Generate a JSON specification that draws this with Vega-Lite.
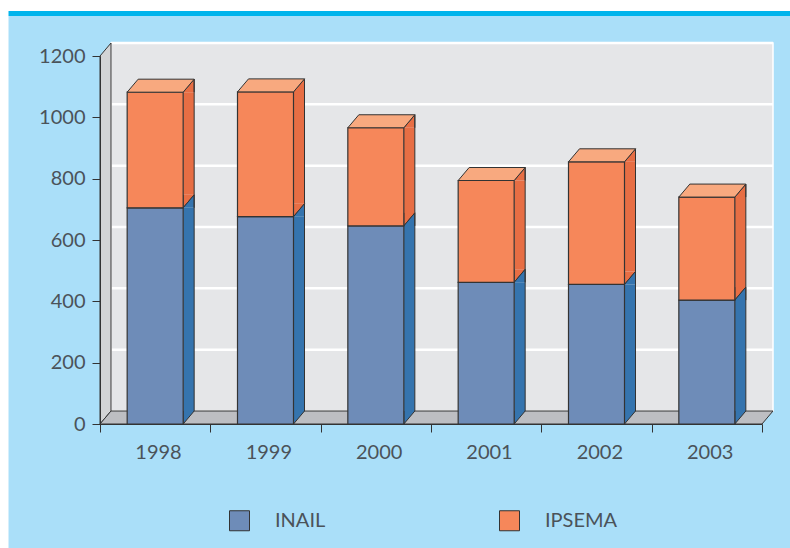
{
  "$schema": "https://vega.github.io/schema/vega-lite/v6.json",
  "width": 790,
  "height": 548,
  "autosize": "none",
  "padding": 0,
  "background": "#aadff9",
  "config": {"view": {"stroke": null}, "font": "Lato"},
  "datasets": {
    "bars": [
      {"year": 1998, "series": "INAIL", "value": 705},
      {"year": 1998, "series": "IPSEMA", "value": 377},
      {"year": 1999, "series": "INAIL", "value": 676},
      {"year": 1999, "series": "IPSEMA", "value": 407},
      {"year": 2000, "series": "INAIL", "value": 646},
      {"year": 2000, "series": "IPSEMA", "value": 320},
      {"year": 2001, "series": "INAIL", "value": 462},
      {"year": 2001, "series": "IPSEMA", "value": 332},
      {"year": 2002, "series": "INAIL", "value": 455},
      {"year": 2002, "series": "IPSEMA", "value": 400},
      {"year": 2003, "series": "INAIL", "value": 404},
      {"year": 2003, "series": "IPSEMA", "value": 336}
    ],
    "grid": [{"v": 200}, {"v": 400}, {"v": 600}, {"v": 800}, {"v": 1000}, {"v": 1200}]
  },
  "layer": [
    {
      "data": {"values": [{}]},
      "mark": {"type": "rect", "fill": {"gradient": "linear", "x1": 0, "y1": 0, "x2": 0, "y2": 1, "stops": [
        {"offset": 0, "color": "#ffffff"}, {"offset": 0.6875, "color": "#ffffff"},
        {"offset": 0.6875, "color": "#00b4ec"}, {"offset": 1, "color": "#00b4ec"}]}},
      "encoding": {"x": {"value": 0}, "x2": {"value": "width"}, "y": {"value": 0}, "y2": {"value": 16}}
    },
    {
      "data": {"values": [{}]},
      "mark": {"type": "rect", "fill": "#ffffff"},
      "encoding": {"x": {"value": 0}, "x2": {"value": 8.5}, "y": {"value": 0}, "y2": {"value": "height"}}
    },
    {
      "data": {"values": [{}]},
      "mark": {"type": "rect", "fill": "#e5e6e8", "stroke": "#ffffff", "strokeWidth": 1.5, "xOffset": 11, "x2Offset": 11, "yOffset": -13, "y2Offset": -13},
      "encoding": {
        "x": {"datum": 1997.5, "type": "quantitative",
          "scale": {"domain": [1997.5, 2003.5], "range": [100, 762], "nice": false, "zero": false},
          "axis": {"orient": "bottom", "offset": -124, "zindex": 1, "title": null, "grid": false,
            "values": [1997.5, 1998.5, 1999.5, 2000.5, 2001.5, 2002.5, 2003.5],
            "labelExpr": "datum.value < 2003 ? format(datum.value + 0.5, 'd') : ''",
            "labelOffset": 58, "labelPadding": 10, "tickSize": 8, "tickColor": "#333333", "tickWidth": 1,
            "domainColor": "#333333", "domainWidth": 1, "labelFont": "Lato", "labelFontSize": 20,
            "labelColor": "#4b535a", "labelFlush": false, "labelOverlap": false, "labelBound": false}},
        "x2": {"datum": 2003.5},
        "y": {"datum": 0, "type": "quantitative",
          "scale": {"domain": [0, 1200], "range": [424, 56], "nice": false, "zero": true},
          "axis": {"orient": "left", "offset": -100, "zindex": 1, "title": null, "grid": false,
            "values": [0, 200, 400, 600, 800, 1000, 1200], "format": "d",
            "labelPadding": 7, "tickSize": 8, "tickColor": "#333333", "tickWidth": 1,
            "domainColor": "#333333", "domainWidth": 1, "labelFont": "Lato", "labelFontSize": 20,
            "labelColor": "#4b535a", "labelFlush": false, "labelOverlap": false, "labelBound": false}},
        "y2": {"datum": 1200}
      }
    },
    {
      "data": {"name": "grid"},
      "mark": {"type": "rule", "stroke": "#ffffff", "strokeWidth": 2.5, "xOffset": 11, "x2Offset": 11, "yOffset": -13},
      "encoding": {
        "x": {"datum": 1997.5, "type": "quantitative"},
        "x2": {"datum": 2003.5},
        "y": {"field": "v", "type": "quantitative", "title": null}
      }
    },
    {
      "data": {"values": [{}]},
      "mark": {"type": "point", "shape": "M0,0L11,-13L11,-381L0,-368Z", "size": 4, "filled": true, "opacity": 1, "fill": "#d3d4d6", "stroke": "#333333", "strokeWidth": 1},
      "encoding": {
        "x": {"datum": 1997.5, "type": "quantitative"},
        "y": {"datum": 0, "type": "quantitative"}
      }
    },
    {
      "data": {"values": [{}]},
      "mark": {"type": "point", "shape": "M0,0L11,-13L673,-13L662,0Z", "size": 4, "filled": true, "opacity": 1, "fill": "#bdbec2", "stroke": "#333333", "strokeWidth": 1},
      "encoding": {
        "x": {"datum": 1997.5, "type": "quantitative"},
        "y": {"datum": 0, "type": "quantitative"}
      }
    },
    {
      "data": {"name": "bars"},
      "transform": [{"stack": "value", "groupby": ["year"], "sort": [{"field": "series", "order": "ascending"}], "as": ["v0", "v1"]}],
      "layer": [
        {
          "mark": {"type": "rect", "xOffset": 28, "x2Offset": 39, "yOffset": -13},
          "encoding": {
            "x": {"field": "year", "type": "quantitative", "title": null},
            "x2": {"field": "year"},
            "y": {"field": "v0", "type": "quantitative", "title": null},
            "y2": {"field": "v1"},
            "fill": {"condition": {"test": "datum.series === 'INAIL'", "value": "#3574ae"}, "value": "#e76e44"}
          }
        },
        {
          "mark": {"type": "point", "shape": "M28,-13L28,0L39,-13", "size": 4, "filled": true, "opacity": 1, "stroke": "#333333", "strokeWidth": 1},
          "encoding": {
            "x": {"field": "year", "type": "quantitative", "title": null},
            "y": {"field": "v0", "type": "quantitative", "title": null},
            "fill": {"condition": {"test": "datum.series === 'INAIL'", "value": "#3574ae"}, "value": "#e76e44"}
          }
        },
        {
          "mark": {"type": "point", "shape": "M28,0L39,-13L39,0", "size": 4, "filled": true, "opacity": 1, "stroke": "#333333", "strokeWidth": 1},
          "encoding": {
            "x": {"field": "year", "type": "quantitative", "title": null},
            "y": {"field": "v1", "type": "quantitative", "title": null},
            "fill": {"condition": {"test": "datum.series === 'INAIL'", "value": "#3574ae"}, "value": "#e76e44"}
          }
        },
        {
          "mark": {"type": "rule", "xOffset": 39, "yOffset": -13, "y2Offset": -13, "stroke": "#333333", "strokeWidth": 1},
          "encoding": {
            "x": {"field": "year", "type": "quantitative", "title": null},
            "y": {"field": "v0", "type": "quantitative", "title": null},
            "y2": {"field": "v1"}
          }
        },
        {
          "mark": {"type": "rect", "xOffset": -28, "x2Offset": 28, "stroke": "#333333", "strokeWidth": 1.2},
          "encoding": {
            "x": {"field": "year", "type": "quantitative", "title": null},
            "x2": {"field": "year"},
            "y": {"field": "v0", "type": "quantitative", "title": null},
            "y2": {"field": "v1"},
            "color": {"field": "series", "type": "nominal",
              "scale": {"domain": ["INAIL", "IPSEMA"], "range": ["#6e8cb8", "#f6875a"]},
              "legend": {"orient": "none", "legendX": 229, "legendY": 510, "direction": "horizontal", "title": null,
                "symbolType": "square", "symbolSize": 400, "symbolStrokeColor": "#333333", "symbolStrokeWidth": 1,
                "symbolOpacity": 1, "labelFontSize": 20, "labelColor": "#4b535a", "labelFont": "Lato",
                "labelOffset": 25, "columnPadding": 171, "padding": 0}}
          }
        },
        {
          "transform": [{"filter": "datum.series === 'IPSEMA'"}],
          "mark": {"type": "point", "shape": "M-28,0L-17,-13L39,-13L28,0Z", "size": 4, "filled": true, "opacity": 1, "fill": "#f8a97f", "stroke": "#333333", "strokeWidth": 1},
          "encoding": {
            "x": {"field": "year", "type": "quantitative", "title": null},
            "y": {"field": "v1", "type": "quantitative", "title": null}
          }
        }
      ]
    }
  ]
}
